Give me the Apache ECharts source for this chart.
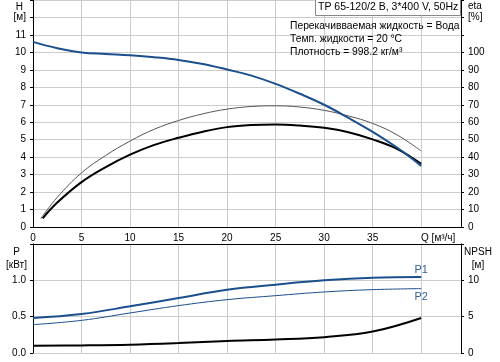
<!DOCTYPE html>
<html><head><meta charset="utf-8">
<script src="https://cdn.jsdelivr.net/npm/echarts@6/dist/echarts.min.js"></script>
<style>html,body{margin:0;padding:0;background:#fff}#c{width:500px;height:362px}</style>
</head><body><div id="c"></div>
<script>
// ---- data ----
const qTop = [0, 2.5, 5, 7.5, 10, 12.5, 15, 17.5, 20, 22.5, 25, 27.5, 30, 32.5, 35, 37.5, 40];
const headM = [10.6, 10.24, 10.0, 9.91, 9.83, 9.72, 9.57, 9.34, 9.02, 8.67, 8.2, 7.63, 7.0, 6.25, 5.45, 4.55, 3.5];
const qEtaPump = [0.8, 2.5, 5, 7.5, 10, 12.5, 15, 17.5, 20, 22.5, 25, 27.5, 30, 32.5, 35, 37.5, 40];
const etaPump = [4.8, 17, 31, 41, 49.2, 56, 61, 64.8, 67.5, 69, 69.4, 68.7, 66.8, 63.6, 59.3, 52.8, 43.5];
const qEtaTotal = [1.0, 2.5, 5, 7.5, 10, 12.5, 15, 17.5, 20, 22.5, 25, 27.5, 30, 32.5, 35, 37.5, 40];
const etaTotal = [5, 14, 25.7, 34.3, 41.4, 47, 51.1, 54.6, 57.2, 58.4, 58.7, 58.1, 56.8, 54.3, 50.2, 44.8, 36.2];
const qBottom = [0, 5, 10, 15, 20, 25, 30, 35, 40];
const powerP1 = [0.482, 0.537, 0.642, 0.757, 0.87, 0.94, 1.0, 1.037, 1.047];
const powerP2 = [0.39, 0.449, 0.551, 0.652, 0.734, 0.789, 0.84, 0.872, 0.886];
const npshM = [1.0, 1.04, 1.14, 1.36, 1.65, 1.85, 2.18, 2.95, 4.82];

const qAxisTitle = 'Q [м³/ч]';
const hUnit = '[м]', etaUnit = '[%]';
const titleText = 'TP 65-120/2 B, 3*400 V, 50Hz';
const infoLines = ['Перекачивваемая жидкость = Вода', 'Темп. жидкости = 20 °C', 'Плотность = 998.2 кг/м³'];

const zip = (xs, ys) => xs.map((x, i) => [x, ys[i]]);

const FONT = 'Liberation Sans';
const BLUE = '#1b4f8d';
const GRID = '#cccccc';
const txt = {color: '#000', fontFamily: FONT, fontSize: 10};

const chart = echarts.init(document.getElementById('c'), null, {renderer: 'canvas'});
const option = {
  animation: false,
  backgroundColor: '#fff',
  grid: [
    {left: 33, right: 39, top: 0, height: 227},
    {left: 33, right: 39, top: 244, height: 109}
  ],
  xAxis: [
    {gridIndex: 0, type: 'value', min: 0, max: 44.1, interval: 5,
     axisLine: {show: true, onZero: false, lineStyle: {color: '#000', width: 1}},
     axisTick: {show: false},
     axisLabel: Object.assign({}, txt, {margin: 6, showMaxLabel: false,
       formatter: v => v === 40 ? '{q|' + qAxisTitle + '}' : (v % 5 === 0 && v < 40 ? String(v) : ''),
       rich: {q: {fontFamily: FONT, fontSize: 10, color: '#000', padding: [0, 0, 0, 34]}}}),
     splitLine: {show: true, lineStyle: {color: GRID, width: 1}}},
    {gridIndex: 1, type: 'value', position: 'top', min: 0, max: 44.1, interval: 5,
     axisLine: {show: true, onZero: false, lineStyle: {color: '#000', width: 1}},
     axisTick: {show: false}, axisLabel: {show: false},
     splitLine: {show: true, lineStyle: {color: GRID, width: 1}}}
  ],
  yAxis: [
    {gridIndex: 0, type: 'value', min: 0, max: 13, interval: 1,
     name: 'H', nameLocation: 'end', nameGap: -12,
     nameTextStyle: Object.assign({}, txt, {align: 'right', padding: [0, 10, 0, 0]}),
     axisLine: {show: true, onZero: false, lineStyle: {color: '#000'}},
     axisTick: {show: true, length: 3, lineStyle: {color: '#000'}},
     axisLabel: Object.assign({}, txt, {margin: 7,
       formatter: v => v <= 11 ? String(v) : (v === 12 ? hUnit : '')}),
     splitLine: {show: true, lineStyle: {color: GRID, width: 1}}},
    {gridIndex: 0, type: 'value', position: 'right', min: 0, max: 130, interval: 10,
     name: 'eta', nameLocation: 'end', nameGap: -11,
     nameTextStyle: Object.assign({}, txt, {align: 'left', padding: [0, 0, 0, 7]}),
     axisLine: {show: true, onZero: false, lineStyle: {color: '#000'}},
     axisTick: {show: true, length: 3, lineStyle: {color: '#000'}},
     axisLabel: Object.assign({}, txt, {margin: 7,
       formatter: v => v <= 100 ? String(v) : (v === 120 ? etaUnit : '')}),
     splitLine: {show: false}},
    {gridIndex: 1, type: 'value', min: 0, max: 1.5, interval: 0.5,
     name: 'P\n[кВт]', nameLocation: 'end', nameGap: -28,
     nameTextStyle: Object.assign({}, txt, {align: 'center', lineHeight: 13, padding: [0, 33, 0, 0]}),
     axisLine: {show: true, onZero: false, lineStyle: {color: '#000'}},
     axisTick: {show: true, length: 3, lineStyle: {color: '#000'}},
     axisLabel: Object.assign({}, txt, {margin: 7,
       formatter: v => v <= 1 ? v.toFixed(1) : ''}),
     splitLine: {show: true, lineStyle: {color: GRID, width: 1}}},
    {gridIndex: 1, type: 'value', position: 'right', min: 0, max: 15, interval: 5,
     name: 'NPSH\n[м]', nameLocation: 'end', nameGap: -28,
     nameTextStyle: Object.assign({}, txt, {align: 'center', lineHeight: 13, padding: [0, 0, 0, 34]}),
     axisLine: {show: true, onZero: false, lineStyle: {color: '#000'}},
     axisTick: {show: true, length: 3, lineStyle: {color: '#000'}},
     axisLabel: Object.assign({}, txt, {margin: 7,
       formatter: v => v <= 10 ? String(v) : ''}),
     splitLine: {show: false}}
  ],
  series: [
    {name: 'Eta насоса', type: 'line', xAxisIndex: 0, yAxisIndex: 1, data: zip(qEtaPump, etaPump),
     smooth: 0.4, showSymbol: false, lineStyle: {color: '#555', width: 1}, itemStyle: {color: '#555'}},
    {name: 'Eta общий', type: 'line', xAxisIndex: 0, yAxisIndex: 1, data: zip(qEtaTotal, etaTotal),
     smooth: 0.4, showSymbol: false, lineStyle: {color: '#000', width: 2}, itemStyle: {color: '#000'}},
    {name: 'H', type: 'line', xAxisIndex: 0, yAxisIndex: 0, data: zip(qTop, headM),
     smooth: 0.4, showSymbol: false, lineStyle: {color: BLUE, width: 2}, itemStyle: {color: BLUE}},
    {name: 'NPSH', type: 'line', xAxisIndex: 1, yAxisIndex: 3, data: zip(qBottom, npshM),
     smooth: 0.4, showSymbol: false, lineStyle: {color: '#000', width: 2}, itemStyle: {color: '#000'}},
    {name: 'P2', type: 'line', xAxisIndex: 1, yAxisIndex: 2, data: zip(qBottom, powerP2),
     smooth: 0.4, showSymbol: false, lineStyle: {color: BLUE, width: 1}, itemStyle: {color: BLUE},
     endLabel: {show: true, formatter: 'P2', distance: 0, align: 'center', verticalAlign: 'middle',
       offset: [0, 8], color: '#2f5f9c', fontFamily: FONT, fontSize: 11}},
    {name: 'P1', type: 'line', xAxisIndex: 1, yAxisIndex: 2, data: zip(qBottom, powerP1),
     smooth: 0.4, showSymbol: false, lineStyle: {color: BLUE, width: 2}, itemStyle: {color: BLUE},
     endLabel: {show: true, formatter: 'P1', distance: 0, align: 'center', verticalAlign: 'middle',
       offset: [0, -7], color: '#2f5f9c', fontFamily: FONT, fontSize: 11}}
  ],
  graphic: [
    {type: 'rect', left: 315, top: -1, shape: {width: 145, height: 16},
     style: {fill: '#fff', stroke: '#888', lineWidth: 1}, z: 100},
    {type: 'text', left: 318, top: 2, z: 101,
     style: {text: titleText, fill: '#000', font: '10.5px "Liberation Sans"'}},
    {type: 'text', left: 290, top: 20, z: 101,
     style: {text: infoLines.join('\n'), fill: '#000', font: '10.3px "Liberation Sans"', lineHeight: 12.7}}
  ]
};
chart.setOption(option);
</script>
</body></html>
